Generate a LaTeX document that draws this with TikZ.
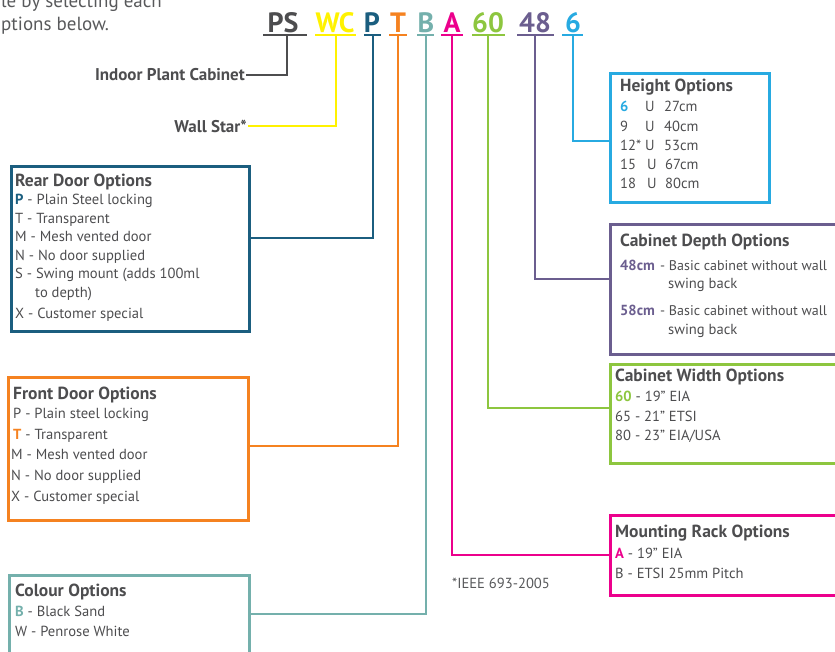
\documentclass[tikz,border=0pt]{standalone}
\usepackage{fontspec}
\setmainfont{PT Sans}
\definecolor{tgray}{HTML}{4D4D4F}
\definecolor{igray}{HTML}{58595B}
\definecolor{cPS}{HTML}{4D4D4F}
\definecolor{cWC}{HTML}{FFF200}
\definecolor{cP}{HTML}{1B5E7F}
\definecolor{cT}{HTML}{F58220}
\definecolor{cB}{HTML}{74B0AC}
\definecolor{cA}{HTML}{EC008C}
\definecolor{cSix0}{HTML}{8DC63F}
\definecolor{cFour8}{HTML}{6B5E8F}
\definecolor{cSix}{HTML}{27AAE1}
\begin{document}
\begin{tikzpicture}[x=1pt,y=-1pt,
  codetxt/.style={font=\fontsize{28}{30}\selectfont\bfseries, anchor=base, inner sep=0},
  uline/.style={line width=2pt},
  conn/.style={line width=1.8pt},
  frame/.style={draw, line width=2.5pt, anchor=north west, inner sep=0},
  ttl/.style={font=\fontsize{17.5}{19}\selectfont\bfseries, text=tgray, anchor=west, inner sep=0, text height=12pt, text depth=3.5pt},
  itm/.style={font=\fontsize{14.6}{17}\selectfont, text=tgray, anchor=west, inner sep=0, text height=10.5pt, text depth=3.5pt},
  itmn/.style={itm, font=\fontsize{14}{16}\selectfont},
  lbl/.style={font=\fontsize{17}{19}\selectfont\bfseries, text=tgray, anchor=east, inner sep=1pt},
  intro/.style={anchor=base west, inner sep=0, font=\fontsize{19}{22}\selectfont, text=igray}
]
\useasboundingbox (0,0) rectangle (835,651);
\clip (0,0) rectangle (835,651);

% intro text
\node[intro] (intro1) at (1,7) {le by selecting each};
\node[intro] (intro2) at (1,30) {ptions below.};

% code letters
\node[codetxt, text=cPS] (cdPS) at (283,32) {PS};
\node[codetxt, text=cWC] (cdWC) at (335,32) {WC};
\node[codetxt, text=cP] (cdP) at (372,32) {P};
\node[codetxt, text=cT] (cdT) at (398,32) {T};
\node[codetxt, text=cB] (cdB) at (426,32) {B};
\node[codetxt, text=cA] (cdA) at (452,32) {A};
\node[codetxt, text=cSix0] (cd60) at (488,32) {60};
\node[codetxt, text=cFour8] (cd48) at (535,32) {48};
\node[codetxt, text=cSix] (cd6) at (573,32) {6};

% underlines
\draw[uline, cPS] (263,35) -- (307,35);
\draw[uline, cWC] (315,35) -- (356,35);
\draw[uline, cP] (364,35) -- (381,35);
\draw[uline, cT] (389,35) -- (407,35);
\draw[uline, cB] (417,35) -- (434,35);
\draw[uline, cA] (441,35) -- (463,35);
\draw[uline, cSix0] (472,35) -- (505,35);
\draw[uline, cFour8] (517,35) -- (554,35);
\draw[uline, cSix] (562,35) -- (583,35);

\coordinate (uPS) at (287,35);
\coordinate (uWC) at (336,35);
\coordinate (uP) at (373,35);
\coordinate (uT) at (398,35);
\coordinate (uB) at (426,35);
\coordinate (uA) at (452,35);
\coordinate (u60) at (488,35);
\coordinate (u48) at (535,35);
\coordinate (u6) at (573,35);

% labels
\node[lbl] (ipc) at (246,75) {Indoor Plant Cabinet};
\node[lbl] (ws) at (248,126) {Wall Star*};

% boxes
\node[frame, draw=cP, minimum width=238, minimum height=165] (rear) at (10,165) {};
\node[frame, draw=cT, minimum width=240, minimum height=143] (front) at (7,376) {};
\node[frame, draw=cB, minimum width=240, minimum height=100] (colour) at (8,574) {};
\node[frame, draw=cSix, minimum width=159, minimum height=129] (height) at (609,72) {};
\node[frame, draw=cFour8, minimum width=240, minimum height=130] (depth) at (609,223) {};
\node[frame, draw=cSix0, minimum width=240, minimum height=99] (width) at (609,363) {};
\node[frame, draw=cA, minimum width=240, minimum height=80] (mount) at (609,514) {};

% connectors
\draw[conn, cPS] (uPS) |- (ipc.east);
\draw[conn, cWC] (uWC) |- (ws.east);
\draw[conn, cP] (uP) |- (rear.east |- 0,238);
\draw[conn, cT] (uT) |- (front.east |- 0,446);
\draw[conn, cB] (uB) |- (colour.east |- 0,614);
\draw[conn, cA] (uA) |- (mount.west |- 0,555);
\draw[conn, cSix0] (u60) |- (width.west |- 0,408);
\draw[conn, cFour8] (u48) |- (depth.west |- 0,279);
\draw[conn, cSix] (u6) |- (height.west |- 0,141);

% rear door
\node[ttl] (r0) at (15,182) {Rear Door Options};
\node[itm] (r1) at (15,201) {\textcolor{cP}{\bfseries P} - Plain Steel locking};
\node[itm] (r2) at (15,220) {T - Transparent};
\node[itm] (r3) at (15,238) {M - Mesh vented door};
\node[itm] (r4) at (15,257) {N - No door supplied};
\node[itm] (r5) at (15,275) {S - Swing mount (adds 100ml};
\node[itm] (r6) at (35,294) {to depth)};
\node[itm] (r7) at (15,315) {X - Customer special};

% front door
\node[ttl] (f0) at (13,395) {Front Door Options};
\node[itm] (f1) at (13,415) {P - Plain steel locking};
\node[itm] (f2) at (13,436) {\textcolor{cT}{\bfseries T} - Transparent};
\node[itm] (f3) at (11,456) {M - Mesh vented door};
\node[itm] (f4) at (11,477) {N - No door supplied};
\node[itm] (f5) at (11,498) {X - Customer special};

% colour
\node[ttl] (k0) at (15,592) {Colour Options};
\node[itm] (k1) at (15,613) {\textcolor{cB}{\bfseries B} - Black Sand};
\node[itm] (k2) at (15,633) {W - Penrose White};

% height
\node[ttl] (h0) at (620,87) {Height Options};
\node[itm] (h1a) at (620,108) {\textcolor{cSix}{\bfseries 6}};
\node[itm] (h1b) at (645,108) {U};
\node[itm] (h1c) at (664,108) {27cm};
\node[itm] (h2a) at (620,128) {9};
\node[itm] (h2b) at (645,128) {U};
\node[itm] (h2c) at (664,128) {40cm};
\node[itm] (h3a) at (620,147) {12*};
\node[itm] (h3b) at (645,147) {U};
\node[itm] (h3c) at (664,147) {53cm};
\node[itm] (h4a) at (620,166) {15};
\node[itm] (h4b) at (647,166) {U};
\node[itm] (h4c) at (665,166) {67cm};
\node[itm] (h5a) at (620,185) {18};
\node[itm] (h5b) at (647,185) {U};
\node[itm] (h5c) at (665,185) {80cm};

% depth
\node[ttl] (d0) at (620,242) {Cabinet Depth Options};
\node[itm] (d1a) at (620,267) {\textcolor{cFour8}{\bfseries 48cm}};
\node[itmn] (d1b) at (660,267) {- Basic cabinet without wall};
\node[itm] (d1c) at (668,285) {swing back};
\node[itm] (d2a) at (620,312) {\textcolor{cFour8}{\bfseries 58cm}};
\node[itmn] (d2b) at (660,312) {- Basic cabinet without wall};
\node[itm] (d2c) at (668,331) {swing back};

% width
\node[ttl] (w0) at (615,377) {Cabinet Width Options};
\node[itm] (w1) at (615,398) {\textcolor{cSix0}{\bfseries 60} - 19” EIA};
\node[itm] (w2) at (615,418) {65 - 21” ETSI};
\node[itm] (w3) at (615,437) {80 - 23” EIA/USA};

% mounting
\node[ttl] (m0) at (615,533) {Mounting Rack Options};
\node[itm] (m1) at (615,555) {\textcolor{cA}{\bfseries A} - 19” EIA};
\node[itm] (m2) at (615,575) {B - ETSI 25mm Pitch};

% footnote
\node[itm, text=igray] (fn) at (452,585) {*IEEE 693-2005};
\end{tikzpicture}
\end{document}
